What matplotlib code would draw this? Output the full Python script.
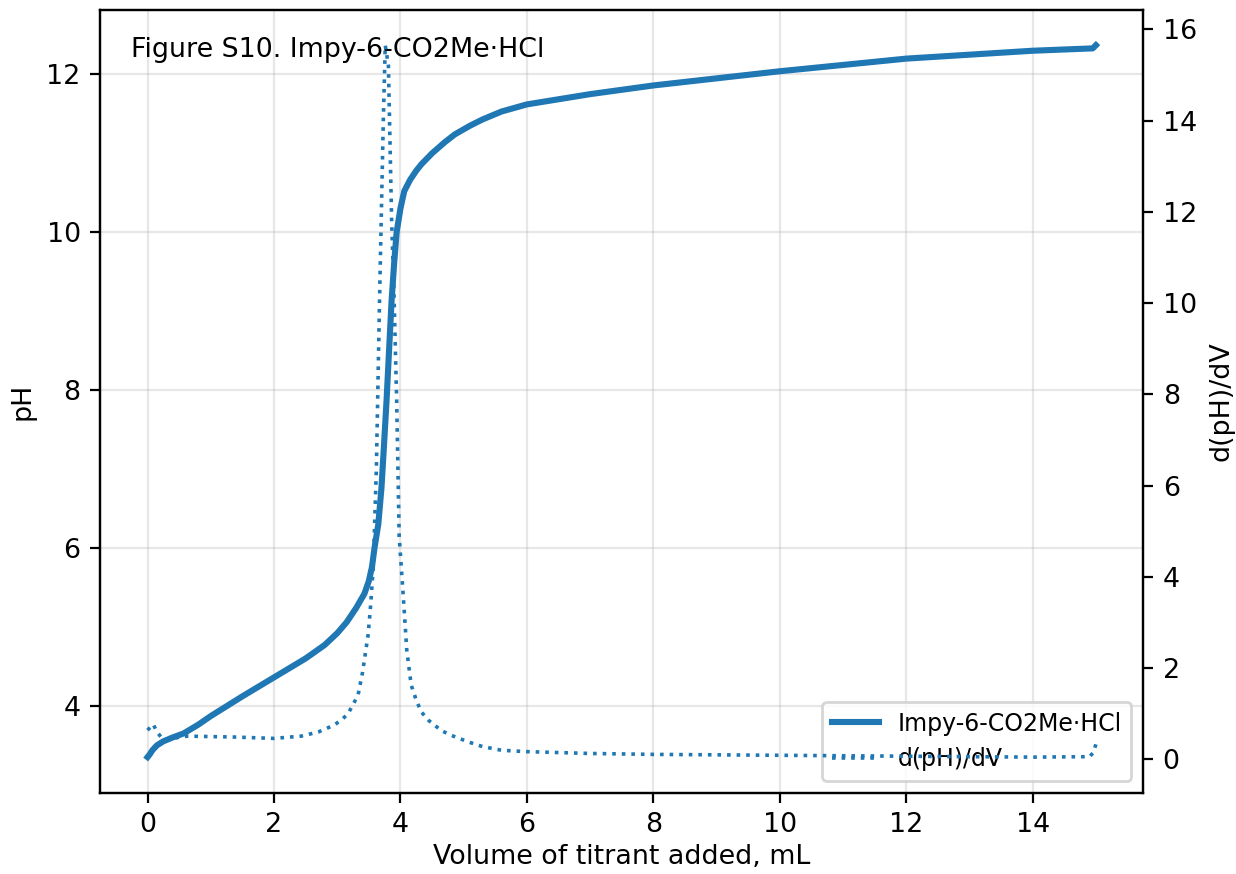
import matplotlib
matplotlib.use("Agg")
import matplotlib.pyplot as plt

# titration curve
vol_ph = [0, 0.03, 0.08, 0.15, 0.25, 0.4, 0.57, 0.8, 1.0, 1.5, 2.0, 2.5, 2.8,
          3.0, 3.15, 3.3, 3.43, 3.5, 3.55, 3.59, 3.65, 3.70, 3.74, 3.78, 3.82,
          3.86, 3.90, 3.94, 4.0, 4.06, 4.15, 4.25, 4.33, 4.5, 4.7, 4.86, 5.1,
          5.3, 5.6, 6.0, 7.0, 8.0, 9.0, 10.0, 11.0, 12.0, 13.0, 14.0, 14.95,
          15.0]
ph = [3.35, 3.38, 3.44, 3.5, 3.55, 3.6, 3.65, 3.76, 3.87, 4.12, 4.36, 4.6, 4.77,
      4.92, 5.06, 5.24, 5.42, 5.58, 5.76, 6.0, 6.3, 6.76, 7.3, 7.86, 8.5,
      9.13, 9.6, 10.0, 10.3, 10.52, 10.66, 10.78, 10.86, 11.0, 11.14, 11.24,
      11.35, 11.43, 11.53, 11.62, 11.75, 11.86, 11.95, 12.04, 12.12, 12.2,
      12.25, 12.3, 12.33, 12.37]

# first derivative
vol_d = [0, 0.09, 0.15, 0.22, 0.29, 0.63, 1.0, 1.37, 2.0, 2.43, 2.7, 2.95,
         3.08, 3.17, 3.25, 3.33, 3.4, 3.49, 3.53, 3.57, 3.62, 3.67, 3.73, 3.76,
         3.81, 3.86, 3.9, 3.94, 3.98, 4.05, 4.1, 4.17, 4.25, 4.33, 4.45, 4.54,
         4.65, 4.8, 5.08, 5.3, 5.6, 6.0, 7.0, 8.0, 10.0, 12.0, 14.0, 14.9,
         14.96, 15.0]
dph = [0.64, 0.77, 0.6, 0.48, 0.44, 0.51, 0.50, 0.49, 0.46, 0.51, 0.6, 0.75,
       0.88, 1.0, 1.2, 1.41, 1.9, 2.74, 3.4, 4.2, 6.4, 10.1, 14.06, 15.65,
       15.2, 11.85, 10.1, 7.9, 4.9, 3.47, 2.4, 1.63, 1.3, 1.04, 0.85, 0.75,
       0.63, 0.53, 0.38, 0.28, 0.2, 0.17, 0.13, 0.11, 0.09, 0.07, 0.05, 0.06,
       0.15, 0.33]

label = "Impy-6-CO2Me\u00b7HCl"
color = "#1f77b4"

plt.rcParams["font.size"] = 9.7

fig = plt.figure(figsize=(6.18, 4.37), dpi=200)
ax1 = fig.add_axes([0.081, 0.093, 0.844, 0.896])
ax2 = ax1.twinx()

l1, = ax1.plot(vol_ph, ph, color=color, lw=2.2, label=label)
l2, = ax2.plot(vol_d, dph, color=color, lw=1.3, ls=":", label="d(pH)/dV")

ax1.set_xlabel("Volume of titrant added, mL", labelpad=2)
ax1.set_ylabel("pH")
ax2.set_ylabel("d(pH)/dV")
ax1.set_xticks(range(0, 15, 2))
ax1.set_yticks([4, 6, 8, 10, 12])
ax2.set_yticks(range(0, 17, 2))
ax1.grid(True, alpha=0.3)

ax1.text(0.03, 0.965, "Figure S10. " + label, transform=ax1.transAxes,
         va="top", ha="left")
ax1.legend([l1, l2], [label, "d(pH)/dV"], loc="lower right", fontsize=8.5)

fig.savefig("out.png", dpi=200)
